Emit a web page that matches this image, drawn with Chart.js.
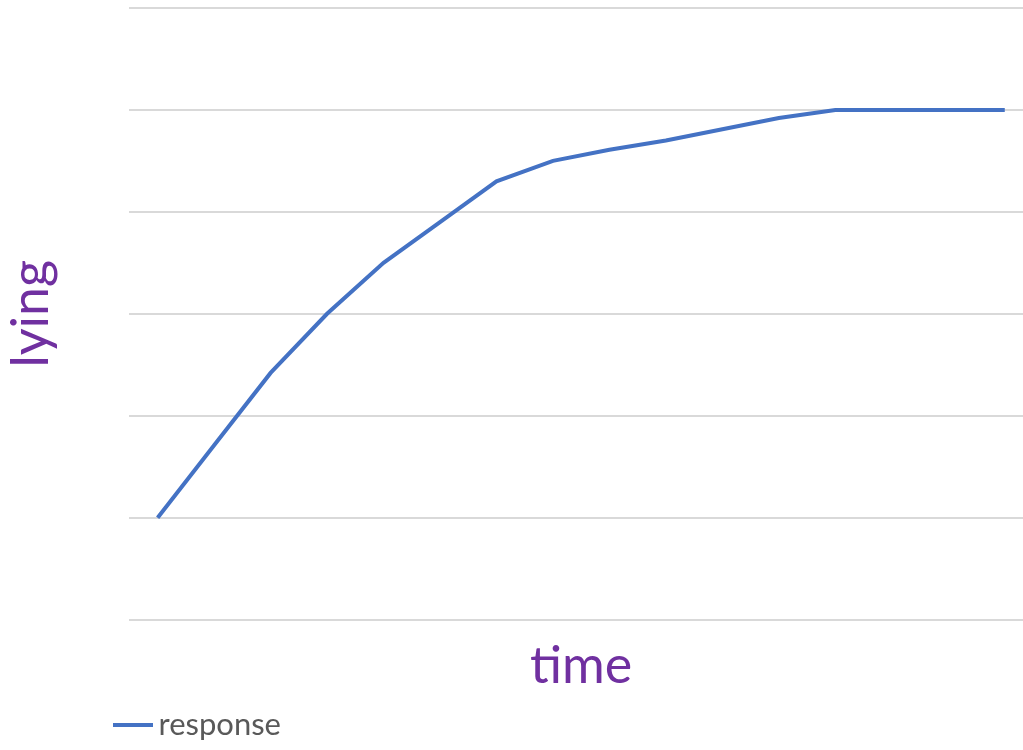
<!DOCTYPE html>
<html>
<head>
<meta charset="utf-8">
<script src="https://cdn.jsdelivr.net/npm/chart.js@4.4.1/dist/chart.umd.min.js"></script>
<style>
  html, body { margin: 0; padding: 0; background: #ffffff; overflow: hidden; }
  #wrap { position: relative; width: 1033px; height: 750px; }
</style>
</head>
<body>
<div id="wrap"><canvas id="chart"></canvas></div>
<script>
// Time steps along the x axis (no tick labels are shown)
const categories = ['1', '2', '3', '4', '5', '6', '7', '8', '9', '10', '11', '12', '13', '14', '15', '16'];
// Response level at each time step
const responseValues = [1.0, 1.71, 2.42, 3.0, 3.5, 3.9, 4.3, 4.5, 4.61, 4.7, 4.81, 4.92, 5.0, 5.0, 5.0, 5.0];
// Horizontal grid levels
const gridLevels = [0, 1, 2, 3, 4, 5, 6];

const seriesName = 'response';
const xTitle = 'time';
const yTitle = 'lying';

const lineColor = '#4472C4';
const titleColor = '#7030A0';
const FONT = 'Lato, "Open Sans", "DejaVu Sans", sans-serif';

// Legend swatch: a short line sitting close to its label
function makeSwatch() {
  const c = document.createElement('canvas');
  c.width = 60; c.height = 4;
  const g = c.getContext('2d');
  g.fillStyle = lineColor;
  g.fillRect(15, 0, 40, 4);
  return c;
}

// Nudge the legend to its left position
const legendShift = {
  id: 'legendShift',
  beforeDraw(chart) {
    if (chart.legend) chart.legend.left = 103;
  }
};

new Chart(document.getElementById('chart'), {
  type: 'line',
  data: {
    labels: categories,
    datasets: [{
      label: seriesName,
      data: responseValues,
      borderColor: lineColor,
      backgroundColor: lineColor,
      borderWidth: 4,
      pointRadius: 0,
      tension: 0,
      fill: false
    }]
  },
  options: {
    responsive: true,
    maintainAspectRatio: false,
    animation: false,
    layout: { padding: { top: 8, left: 0, right: 0, bottom: 0 } },
    plugins: {
      tooltip: { enabled: false },
      legend: {
        position: 'bottom',
        align: 'start',
        labels: {
          usePointStyle: true,
          pointStyle: makeSwatch(),
          pointStyleWidth: 30,
          color: '#595959',
          font: { family: FONT, size: 31 },
          padding: 10
        }
      }
    },
    scales: {
      x: {
        offset: true,
        grid: { display: false },
        border: { display: false },
        ticks: { display: false },
        title: {
          display: true,
          text: xTitle,
          color: titleColor,
          font: { family: FONT, size: 52, lineHeight: 1.2 },
          padding: { top: 7, bottom: 2 }
        }
      },
      y: {
        min: gridLevels[0],
        max: gridLevels[gridLevels.length - 1],
        afterBuildTicks(scale) {
          scale.ticks = gridLevels.map(v => ({ value: v }));
        },
        grid: { color: '#d9d9d9', lineWidth: 2, drawTicks: false },
        border: { display: false },
        ticks: { display: false },
        title: {
          display: true,
          text: yTitle,
          color: titleColor,
          font: { family: FONT, size: 52, lineHeight: 1.2 },
          padding: { top: 0, bottom: 67 }
        }
      }
    }
  },
  plugins: [legendShift]
});
</script>
</body>
</html>
